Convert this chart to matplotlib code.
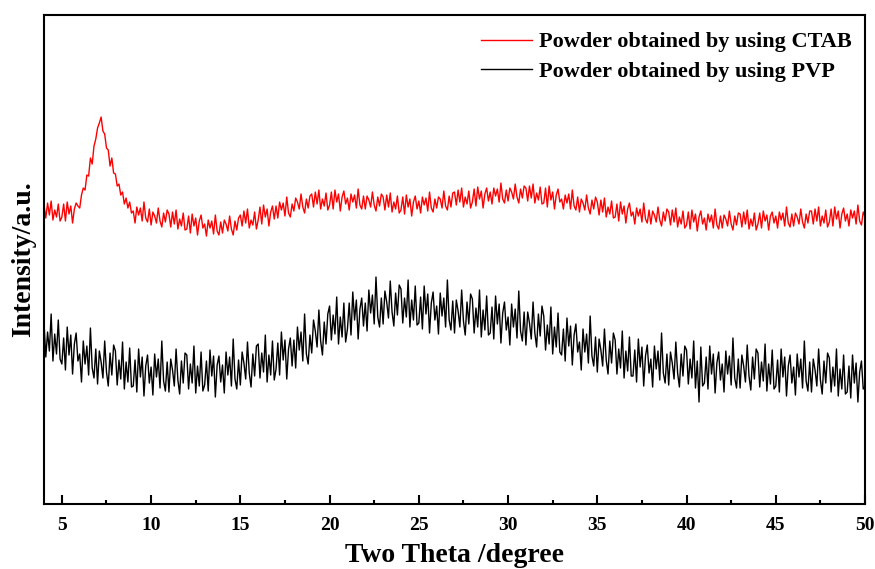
import numpy as np
import matplotlib
matplotlib.use('Agg')
import matplotlib.pyplot as plt
from matplotlib.ticker import MultipleLocator

# === Data (step 0.1 degree from 4.0 to 50.0) ===
two_theta = np.round(np.arange(4.0, 50.05, 0.1), 1)

ctab = [
    299, 286, 301, 289, 303, 284, 294, 287, 300, 283,   # 4
    287, 300, 283, 302, 290, 298, 281, 295, 301, 298,   # 5
    296, 309, 316, 314, 329, 328, 346, 340, 358, 365,   # 6
    376, 381, 387, 373, 370, 356, 354, 338, 346, 331,   # 7
    330, 318, 320, 309, 312, 300, 306, 296, 302, 291,   # 8
    293, 281, 297, 289, 296, 283, 302, 286, 282, 295,   # 9
    279, 292, 288, 281, 296, 283, 277, 291, 282, 294,   # 10
    290, 277, 292, 280, 294, 275, 285, 278, 291, 274,   # 11
    275, 288, 271, 290, 278, 286, 269, 283, 289, 276,   # 12
    280, 268, 284, 276, 283, 270, 289, 273, 269, 282,   # 13
    271, 284, 280, 273, 288, 275, 269, 283, 274, 286,   # 14
    289, 278, 293, 281, 295, 276, 284, 279, 292, 275,   # 15
    284, 297, 280, 299, 287, 295, 278, 292, 298, 285,   # 16
    298, 286, 302, 294, 301, 288, 307, 291, 287, 300,   # 17
    293, 306, 302, 295, 310, 297, 291, 305, 296, 308,   # 18
    310, 297, 312, 300, 314, 295, 305, 298, 311, 294,   # 19
    299, 312, 295, 314, 302, 310, 293, 307, 313, 300,   # 20
    306, 294, 310, 302, 309, 296, 315, 299, 295, 308,   # 21
    295, 308, 304, 297, 312, 299, 293, 307, 298, 310,   # 22
    307, 294, 309, 297, 311, 292, 302, 295, 308, 291,   # 23
    294, 307, 290, 309, 297, 305, 288, 302, 308, 295,   # 24
    303, 291, 307, 299, 306, 293, 312, 296, 292, 305,   # 25
    296, 307, 305, 296, 313, 298, 294, 308, 297, 311,   # 26
    312, 299, 314, 302, 316, 297, 307, 300, 313, 296,   # 27
    302, 315, 298, 317, 305, 313, 296, 310, 316, 303,   # 28
    312, 300, 316, 308, 315, 302, 321, 305, 301, 314,   # 29
    303, 316, 312, 305, 320, 307, 301, 315, 306, 318,   # 30
    316, 303, 318, 306, 320, 301, 311, 304, 317, 300,   # 31
    301, 316, 297, 318, 304, 312, 295, 309, 315, 302,   # 32
    305, 295, 309, 301, 310, 295, 314, 298, 294, 307,   # 33
    292, 305, 301, 294, 309, 296, 290, 304, 295, 307,   # 34
    302, 289, 304, 292, 306, 287, 297, 290, 303, 286,   # 35
    287, 300, 283, 302, 290, 298, 281, 295, 301, 288,   # 36
    292, 280, 296, 288, 295, 282, 301, 285, 281, 294,   # 37
    280, 293, 289, 282, 297, 284, 278, 292, 283, 295,   # 38
    292, 279, 294, 282, 296, 277, 287, 280, 293, 276,   # 39
    279, 292, 275, 294, 282, 290, 273, 287, 293, 280,   # 40
    286, 274, 290, 282, 289, 276, 295, 279, 275, 288,   # 41
    276, 289, 285, 278, 293, 280, 274, 288, 279, 291,   # 42
    290, 277, 292, 280, 294, 275, 285, 278, 291, 274,   # 43
    280, 291, 276, 293, 283, 289, 274, 288, 292, 281,   # 44
    288, 276, 292, 284, 291, 278, 297, 281, 277, 290,   # 45
    278, 291, 287, 280, 295, 282, 276, 290, 281, 293,   # 46
    293, 280, 295, 283, 297, 278, 288, 281, 294, 277,   # 47
    282, 295, 278, 297, 285, 293, 276, 290, 296, 283,   # 48
    290, 278, 294, 286, 293, 280, 299, 283, 279, 292,   # 49
    287,                                                # 50
]

pvp = [
    181, 147, 172, 153, 190, 143, 170, 150, 184, 145,   # 4
    140, 166, 134, 177, 149, 169, 130, 160, 171, 143,   # 5
    150, 122, 163, 140, 158, 129, 176, 136, 126, 155,   # 6
    120, 153, 142, 126, 163, 132, 118, 151, 129, 159,   # 7
    153, 119, 144, 125, 162, 115, 142, 122, 156, 117,   # 8
    118, 144, 112, 155, 127, 147, 108, 138, 149, 121,   # 9
    137, 109, 150, 127, 145, 116, 163, 123, 113, 142,   # 10
    112, 145, 134, 118, 155, 124, 110, 143, 121, 151,   # 11
    149, 115, 140, 121, 158, 111, 138, 118, 152, 113,   # 12
    119, 143, 113, 154, 128, 148, 107, 139, 148, 122,   # 13
    139, 111, 152, 129, 147, 118, 165, 125, 115, 144,   # 14
    119, 152, 141, 125, 162, 131, 117, 150, 128, 158,   # 15
    160, 126, 151, 132, 169, 122, 149, 129, 163, 124,   # 16
    135, 161, 129, 172, 144, 164, 125, 155, 166, 138,   # 17
    164, 136, 177, 154, 172, 143, 190, 150, 140, 169,   # 18
    151, 184, 173, 157, 194, 163, 149, 182, 160, 190,   # 19
    198, 164, 189, 170, 207, 160, 187, 167, 201, 162,   # 20
    175, 201, 169, 212, 184, 204, 165, 195, 206, 178,   # 21
    201, 173, 214, 191, 209, 180, 227, 187, 177, 206,   # 22
    180, 213, 202, 186, 223, 192, 178, 211, 189, 219,   # 23
    215, 181, 206, 187, 224, 177, 204, 184, 218, 179,   # 24
    181, 207, 175, 218, 190, 210, 171, 201, 212, 184,   # 25
    198, 170, 211, 188, 206, 177, 224, 184, 174, 203,   # 26
    171, 204, 193, 177, 214, 183, 169, 202, 180, 210,   # 27
    205, 171, 196, 177, 214, 167, 194, 174, 208, 169,   # 28
    171, 197, 165, 208, 180, 200, 161, 191, 202, 174,   # 29
    187, 159, 200, 177, 195, 166, 213, 173, 163, 192,   # 30
    159, 192, 181, 165, 202, 171, 157, 190, 168, 198,   # 31
    188, 154, 179, 160, 197, 150, 177, 157, 191, 152,   # 32
    149, 175, 143, 186, 158, 178, 139, 169, 180, 152,   # 33
    162, 134, 175, 152, 170, 141, 188, 148, 138, 167,   # 34
    132, 165, 154, 138, 175, 144, 130, 163, 141, 171,   # 35
    164, 130, 155, 136, 173, 126, 153, 133, 167, 128,   # 36
    128, 154, 122, 165, 137, 157, 118, 148, 159, 131,   # 37
    145, 117, 158, 135, 153, 124, 171, 131, 121, 150,   # 38
    119, 152, 141, 125, 162, 131, 117, 150, 128, 158,   # 39
    154, 120, 145, 126, 163, 116, 143, 102, 157, 118,   # 40
    121, 147, 115, 158, 130, 150, 111, 141, 152, 124,   # 41
    140, 112, 153, 130, 148, 119, 166, 126, 116, 145,   # 42
    116, 149, 138, 122, 159, 128, 114, 147, 125, 155,   # 43
    151, 117, 142, 123, 160, 113, 140, 120, 154, 115,   # 44
    118, 144, 112, 155, 127, 147, 108, 138, 149, 121,   # 45
    137, 109, 150, 127, 145, 116, 163, 123, 113, 142,   # 46
    112, 145, 134, 118, 155, 124, 110, 143, 121, 151,   # 47
    146, 112, 137, 118, 155, 108, 135, 115, 149, 110,   # 48
    112, 138, 106, 149, 121, 141, 102, 132, 143, 115,   # 49
    118,                                                # 50
]

labels = ['Powder obtained by using CTAB', 'Powder obtained by using PVP']
colors = ['#ff0000', '#000000']

# === Figure ===
plt.rcParams['font.family'] = ['Liberation Serif', 'DejaVu Serif']
plt.rcParams['font.weight'] = 'bold'

fig = plt.figure(figsize=(8.75, 5.69), dpi=100)
ax = fig.add_axes([0.0503, 0.1142, 0.9383, 0.8594])

ax.plot(two_theta, ctab, color=colors[0], lw=1.0, label=labels[0])
ax.plot(two_theta, pvp, color=colors[1], lw=1.0, label=labels[1])

ax.set_xlim(4, 50)
ax.set_ylim(0, 489)
ax.set_yticks([])
ax.xaxis.set_major_locator(MultipleLocator(5))
ax.xaxis.set_minor_locator(MultipleLocator(2.5))
ax.tick_params(axis='x', which='major', direction='in', length=6.5, width=1.5,
               labelsize=14, pad=9, top=False)
ax.tick_params(axis='x', which='minor', direction='in', length=3, width=1.5, top=False)
for lab in ax.get_xticklabels():
    lab.set_fontweight('bold')
for s in ax.spines.values():
    s.set_linewidth(1.5)

ax.set_xlabel('Two Theta /degree', fontsize=20, fontweight='bold', labelpad=7)
ax.set_ylabel('Intensity/a.u.', fontsize=20, fontweight='bold', labelpad=6)

leg = ax.legend(loc='upper right', bbox_to_anchor=(1.0, 0.993), frameon=False,
                fontsize=16, handlelength=2.3, handletextpad=0.3, labelspacing=0.4,
                borderaxespad=0.2, borderpad=0.4)
for t in leg.get_texts():
    t.set_fontweight('bold')

fig.savefig('out.png', dpi=100)
